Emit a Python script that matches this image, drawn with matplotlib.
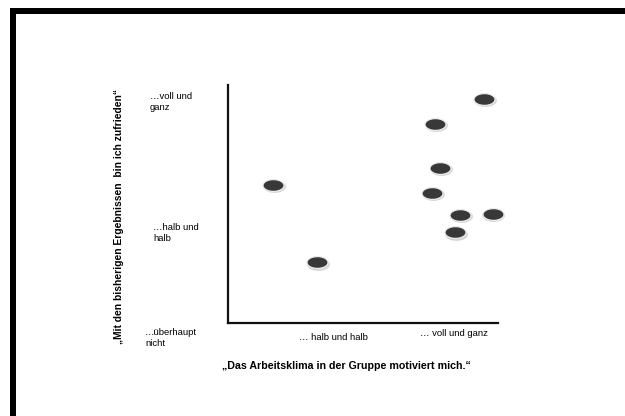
import matplotlib.pyplot as plt
import numpy as np
from matplotlib.patches import Rectangle

plt.rcParams['font.family'] = ['Liberation Sans', 'DejaVu Sans']

# Werte (Skala 0-10)
arbeitsklima = [9.49, 7.68, 7.86, 1.68, 7.56, 8.60, 9.80, 8.42, 3.31]
zufriedenheit = [9.40, 8.35, 6.53, 5.80, 5.47, 4.54, 4.59, 3.81, 2.55]

x_ticks = [3.9, 8.35]
x_tick_labels = ["… halb und halb", "… voll und ganz"]
y_tick_labels = ["…überhaupt\nnicht", "…halb und\nhalb", "…voll und\nganz"]

x_label = "„Das Arbeitsklima in der Gruppe motiviert mich.“"
y_label = "„Mit den bisherigen Ergebnissen  bin ich zufrieden“"

W, H = 625, 416
fig = plt.figure(figsize=(W / 100, H / 100), dpi=100)

# Rahmen oben und links
fig.add_artist(Rectangle((10 / W, 1 - 13.5 / H), 1, 6 / H, transform=fig.transFigure,
                         color='black', lw=0))
fig.add_artist(Rectangle((10 / W, 0), 6 / W, 1 - 7.5 / H, transform=fig.transFigure,
                         color='black', lw=0))

# Achsenbereich
ax_l, ax_r, ax_t, ax_b = 228, 498, 85, 323
ax = fig.add_axes([ax_l / W, 1 - ax_b / H, (ax_r - ax_l) / W, (ax_b - ax_t) / H])
ax.set_xlim(0, 10)
ax.set_ylim(0, 10)
for s in ['top', 'right']:
    ax.spines[s].set_visible(False)
for s in ['left', 'bottom']:
    ax.spines[s].set_linewidth(1.6)
    ax.spines[s].set_color('#111111')
ax.set_xticks([])
ax.set_yticks([])
ax.patch.set_alpha(0)

# Ellipsen-Marker
t = np.linspace(0, 2 * np.pi, 60)
ellipse = np.column_stack([np.cos(t), 0.56 * np.sin(t)])
ax.scatter(np.array(arbeitsklima) + 0.02, np.array(zufriedenheit) - 0.05, marker=ellipse,
           s=270, c='#d6d6d6', linewidths=0, zorder=2, clip_on=False)
ax.scatter(arbeitsklima, zufriedenheit, marker=ellipse, s=230, c='#383838',
           edgecolors='#ececec', linewidths=0.9, zorder=3, clip_on=False)

# Beschriftungen
fs = 6.8
ax.text(x_ticks[0], -0.6, x_tick_labels[0], fontsize=fs, ha='center', va='center')
ax.text(x_ticks[1], -0.45, x_tick_labels[1], fontsize=fs, ha='center', va='center')

y_pos = [(145, 338), (153, 233), (150, 102)]
for (px, py), lab in zip(y_pos, y_tick_labels):
    fig.text(px / W, 1 - py / H, lab, fontsize=fs, ha='left', va='center',
             linespacing=1.25)

fig.text(346 / W, 1 - 366 / H, x_label, fontsize=7.7, fontweight='bold',
         ha='center', va='center')
fig.text(119 / W, 1 - 217 / H, y_label, fontsize=7.4, fontweight='bold',
         ha='center', va='center', rotation=90)

fig.savefig('out.png', dpi=100, facecolor='white')
